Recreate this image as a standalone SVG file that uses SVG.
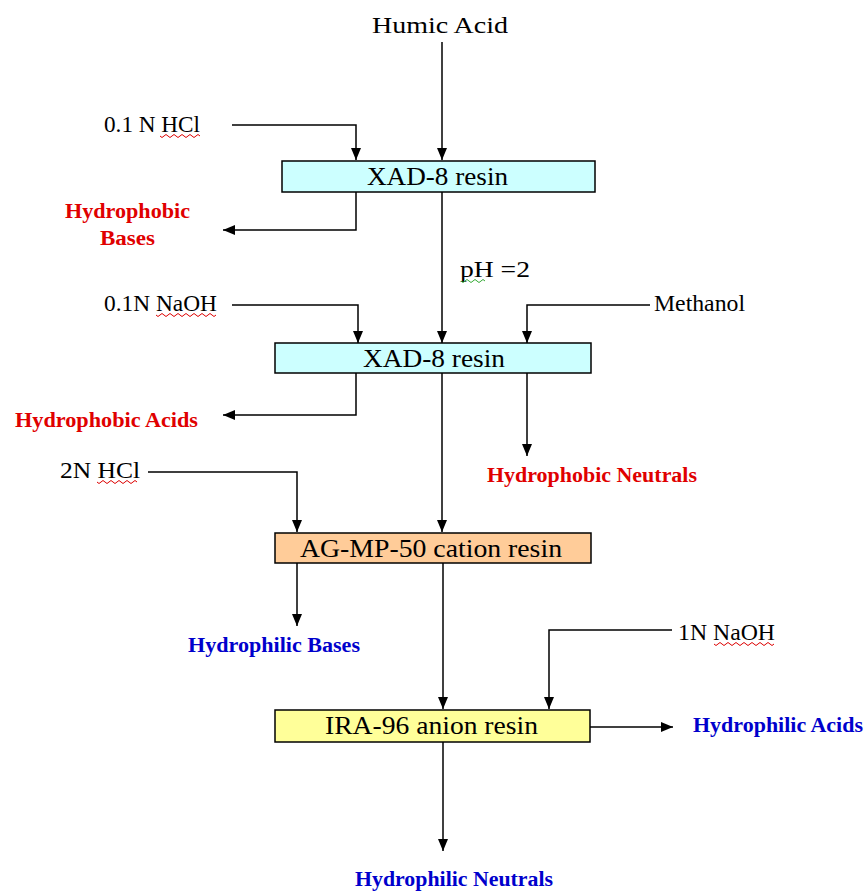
<svg xmlns="http://www.w3.org/2000/svg" width="868" height="895" viewBox="0 0 868 895">
<defs>
<marker id="ah" viewBox="0 0 12 10" refX="12" refY="5" markerWidth="12" markerHeight="10" markerUnits="userSpaceOnUse" orient="auto">
<path d="M0,0 L12,5 L0,10 Z" fill="#000"/>
</marker>
<style>
.ln{fill:none;stroke:#000;stroke-width:1.5}
.box{stroke:#000;stroke-width:1.5}
.t{font-family:"Liberation Serif","Times New Roman",serif;font-size:23px;fill:#000}
.bt{font-family:"Liberation Serif","Times New Roman",serif;font-size:26px;fill:#000}
.red{font-family:"Liberation Serif","Times New Roman",serif;font-size:20px;font-weight:bold;fill:#e00000}
.blue{font-family:"Liberation Serif","Times New Roman",serif;font-size:20px;font-weight:bold;fill:#0000cc}
.sq{fill:none;stroke-width:1}
</style>
</defs>
<rect width="868" height="895" fill="#fff"/>

<g id="connectors">
<path class="ln" d="M442,42 V160" marker-end="url(#ah)"/>
<path class="ln" d="M232,125 H356 V160" marker-end="url(#ah)"/>
<path class="ln" d="M356,192 V230 H223" marker-end="url(#ah)"/>
<path class="ln" d="M442,192 V343" marker-end="url(#ah)"/>
<path class="ln" d="M232,305 H358 V343" marker-end="url(#ah)"/>
<path class="ln" d="M650,305 H527 V343" marker-end="url(#ah)"/>
<path class="ln" d="M356,373 V415 H223" marker-end="url(#ah)"/>
<path class="ln" d="M527,373 V456" marker-end="url(#ah)"/>
<path class="ln" d="M442,373 V532" marker-end="url(#ah)"/>
<path class="ln" d="M148,472 H297 V532" marker-end="url(#ah)"/>
<path class="ln" d="M297,563 V626" marker-end="url(#ah)"/>
<path class="ln" d="M443,563 V709" marker-end="url(#ah)"/>
<path class="ln" d="M672,630 H549 V709" marker-end="url(#ah)"/>
<path class="ln" d="M590,727 H673" marker-end="url(#ah)"/>
<path class="ln" d="M443,742 V851" marker-end="url(#ah)"/>
</g>

<g id="humic-acid"><text class="t" x="372" y="33" textLength="136" lengthAdjust="spacingAndGlyphs">Humic Acid</text></g>

<g id="hcl-01"><text class="t" x="104" y="132" textLength="96" lengthAdjust="spacingAndGlyphs">0.1 N HCl</text>
<path class="sq" stroke="#d00" d="M160,136 q2,3 4,0 t4,0 t4,0 t4,0 t4,0 t4,0 t4,0 t4,0 t4,0 t4,0"/></g>

<g id="xad8-1"><rect class="box" x="282" y="161" width="313" height="31" fill="#ccffff"/>
<text class="bt" x="367" y="185" textLength="141" lengthAdjust="spacingAndGlyphs">XAD-8 resin</text></g>

<g id="hydrophobic-bases"><text class="red" x="65" y="218" textLength="125" lengthAdjust="spacingAndGlyphs">Hydrophobic</text>
<text class="red" x="100" y="245" textLength="55" lengthAdjust="spacingAndGlyphs">Bases</text></g>

<g id="ph2"><text class="t" x="460" y="277" textLength="70" lengthAdjust="spacingAndGlyphs">pH =2</text>
<path class="sq" stroke="#3a3" d="M461,281 q2,3 4,0 t4,0 t4,0 t4,0 t4,0 t4,0"/></g>

<g id="naoh-01"><text class="t" x="104" y="311" textLength="113" lengthAdjust="spacingAndGlyphs">0.1N NaOH</text>
<path class="sq" stroke="#d00" d="M156,315 q2,3 4,0 t4,0 t4,0 t4,0 t4,0 t4,0 t4,0 t4,0 t4,0 t4,0 t4,0 t4,0 t4,0 t4,0 t4,0"/></g>

<g id="methanol"><text class="t" x="654" y="311" textLength="91" lengthAdjust="spacingAndGlyphs">Methanol</text></g>

<g id="xad8-2"><rect class="box" x="275" y="343" width="316" height="30" fill="#ccffff"/>
<text class="bt" x="363" y="367" textLength="142" lengthAdjust="spacingAndGlyphs">XAD-8 resin</text></g>

<g id="hydrophobic-acids"><text class="red" x="15" y="427" textLength="183" lengthAdjust="spacingAndGlyphs">Hydrophobic Acids</text></g>

<g id="hydrophobic-neutrals"><text class="red" x="487" y="482" textLength="210" lengthAdjust="spacingAndGlyphs">Hydrophobic Neutrals</text></g>

<g id="hcl-2n"><text class="t" x="60" y="478" textLength="80" lengthAdjust="spacingAndGlyphs">2N HCl</text>
<path class="sq" stroke="#d00" d="M97,482 q2,3 4,0 t4,0 t4,0 t4,0 t4,0 t4,0 t4,0 t4,0 t4,0 t4,0"/></g>

<g id="ag-mp-50"><rect class="box" x="275" y="533" width="316" height="30" fill="#ffcc99"/>
<text class="bt" x="300" y="557" textLength="262" lengthAdjust="spacingAndGlyphs">AG-MP-50 cation resin</text></g>

<g id="hydrophilic-bases"><text class="blue" x="188" y="652" textLength="172" lengthAdjust="spacingAndGlyphs">Hydrophilic Bases</text></g>

<g id="naoh-1n"><text class="t" x="678" y="640" textLength="97" lengthAdjust="spacingAndGlyphs">1N NaOH</text>
<path class="sq" stroke="#d00" d="M714,644 q2,3 4,0 t4,0 t4,0 t4,0 t4,0 t4,0 t4,0 t4,0 t4,0 t4,0 t4,0 t4,0 t4,0 t4,0 t4,0"/></g>

<g id="ira-96"><rect class="box" x="275" y="710" width="315" height="32" fill="#ffff99"/>
<text class="bt" x="325" y="734" textLength="213" lengthAdjust="spacingAndGlyphs">IRA-96 anion resin</text></g>

<g id="hydrophilic-acids"><text class="blue" x="693" y="732" textLength="170" lengthAdjust="spacingAndGlyphs">Hydrophilic Acids</text></g>

<g id="hydrophilic-neutrals"><text class="blue" x="355" y="886" textLength="198" lengthAdjust="spacingAndGlyphs">Hydrophilic Neutrals</text></g>
</svg>
